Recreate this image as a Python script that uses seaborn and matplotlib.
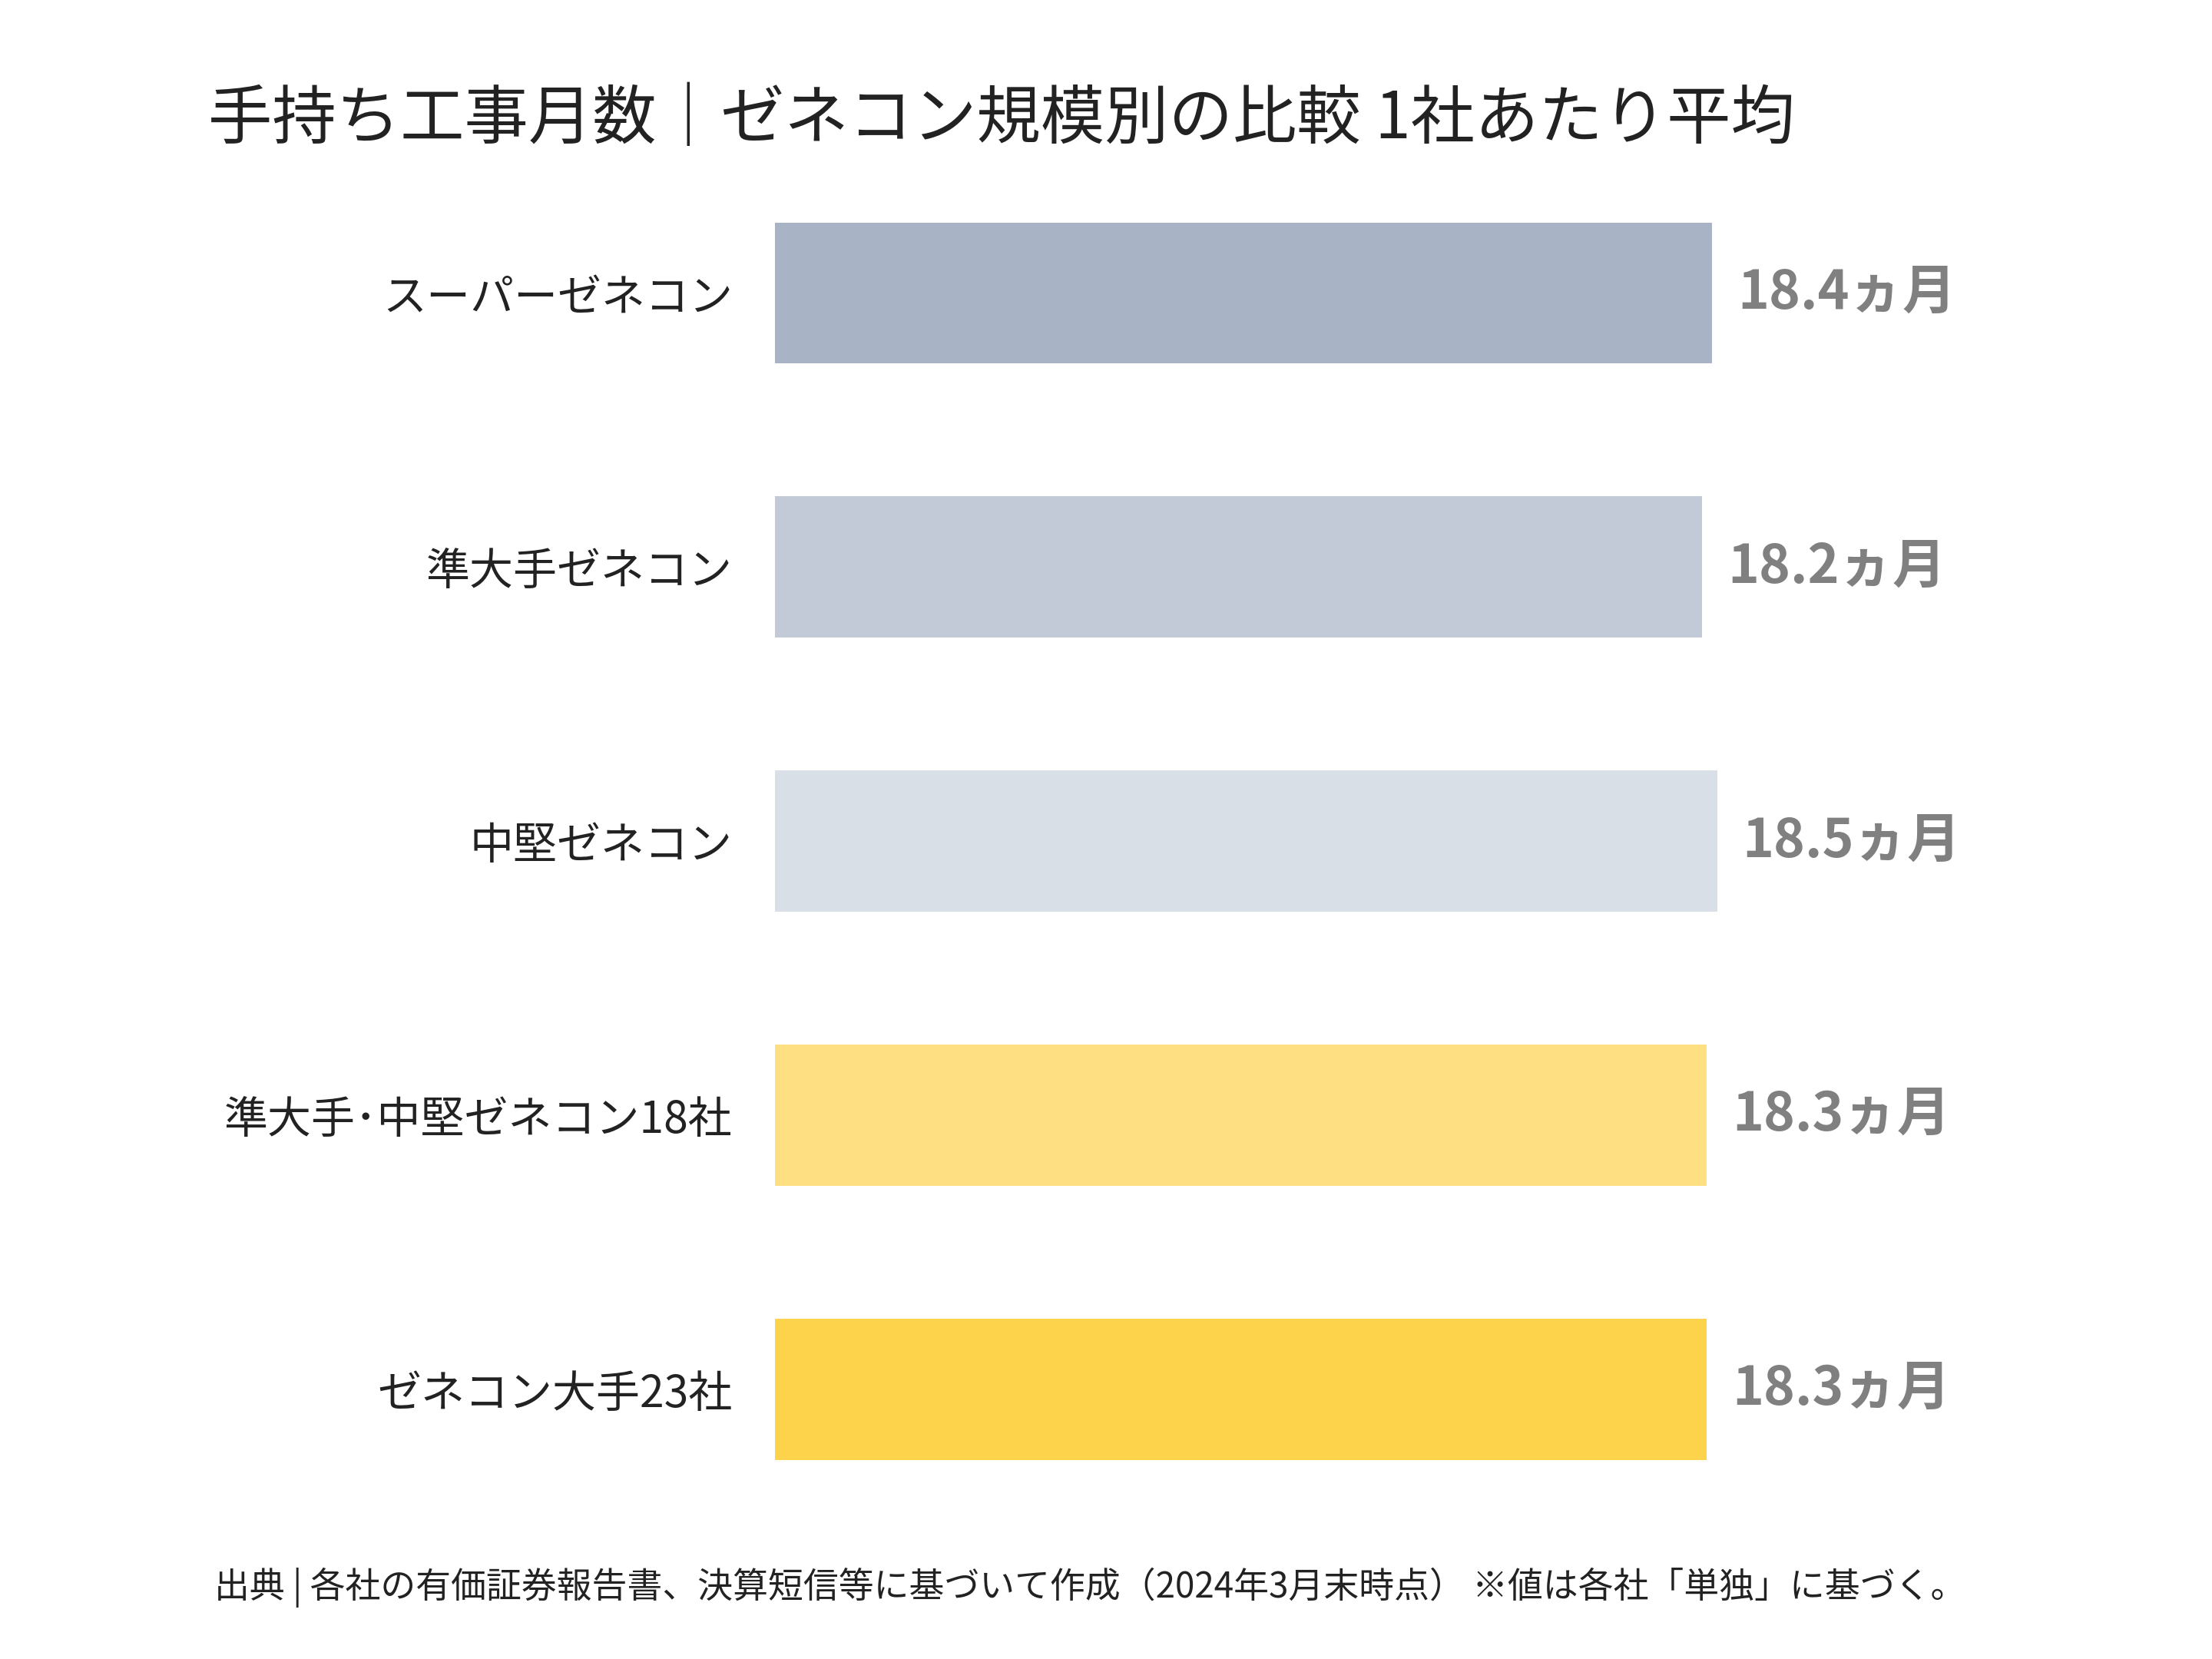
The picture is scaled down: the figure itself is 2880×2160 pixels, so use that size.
import matplotlib.pyplot as plt
import seaborn as sns
import pandas as pd

plt.rcParams["font.family"] = "Noto Sans CJK JP"

# Data
categories = ["スーパーゼネコン", "準大手ゼネコン", "中堅ゼネコン", "準大手･中堅ゼネコン18社", "ゼネコン大手23社"]
months = [18.4, 18.2, 18.5, 18.3, 18.3]
colors = ["#A8B4C5", "#C1CAD6", "#D9DFE7", "#FEDF82", "#FDD34B"]

df = pd.DataFrame({"cat": categories, "val": months})

fig = plt.figure(figsize=(14.4, 10.8), dpi=200)
ax = fig.add_axes([0.3505, 0.080, 0.55, 0.826])

sns.barplot(data=df, x="val", y="cat", hue="cat", palette=colors,
            width=0.515, legend=False, ax=ax, saturation=1)

ax.set_xlim(0, 23.9)
ax.set_ylim(4.5, -0.5)
for i, v in enumerate(months):
    ax.text(v + 0.5, i, f"{v}ヵ月", va="center", ha="left",
            fontsize=25, fontweight="bold", color="#808080")

ax.set_xticks([])
ax.set_xlabel("")
ax.set_ylabel("")
ax.tick_params(axis="y", length=0, pad=20, labelsize=20.5, labelcolor="#222222")
for s in ax.spines.values():
    s.set_visible(False)

fig.text(0.094, 0.928, "手持ち工事月数｜ゼネコン規模別の比較 1社あたり平均",
         fontsize=30, color="#222222", va="center")
fig.text(0.097, 0.043,
         "出典 | 各社の有価証券報告書、決算短信等に基づいて作成（2024年3月末時点） ※値は各社「単独」に基づく。",
         fontsize=16.5, color="#222222", va="center")

fig.savefig("out.png", dpi=200)
